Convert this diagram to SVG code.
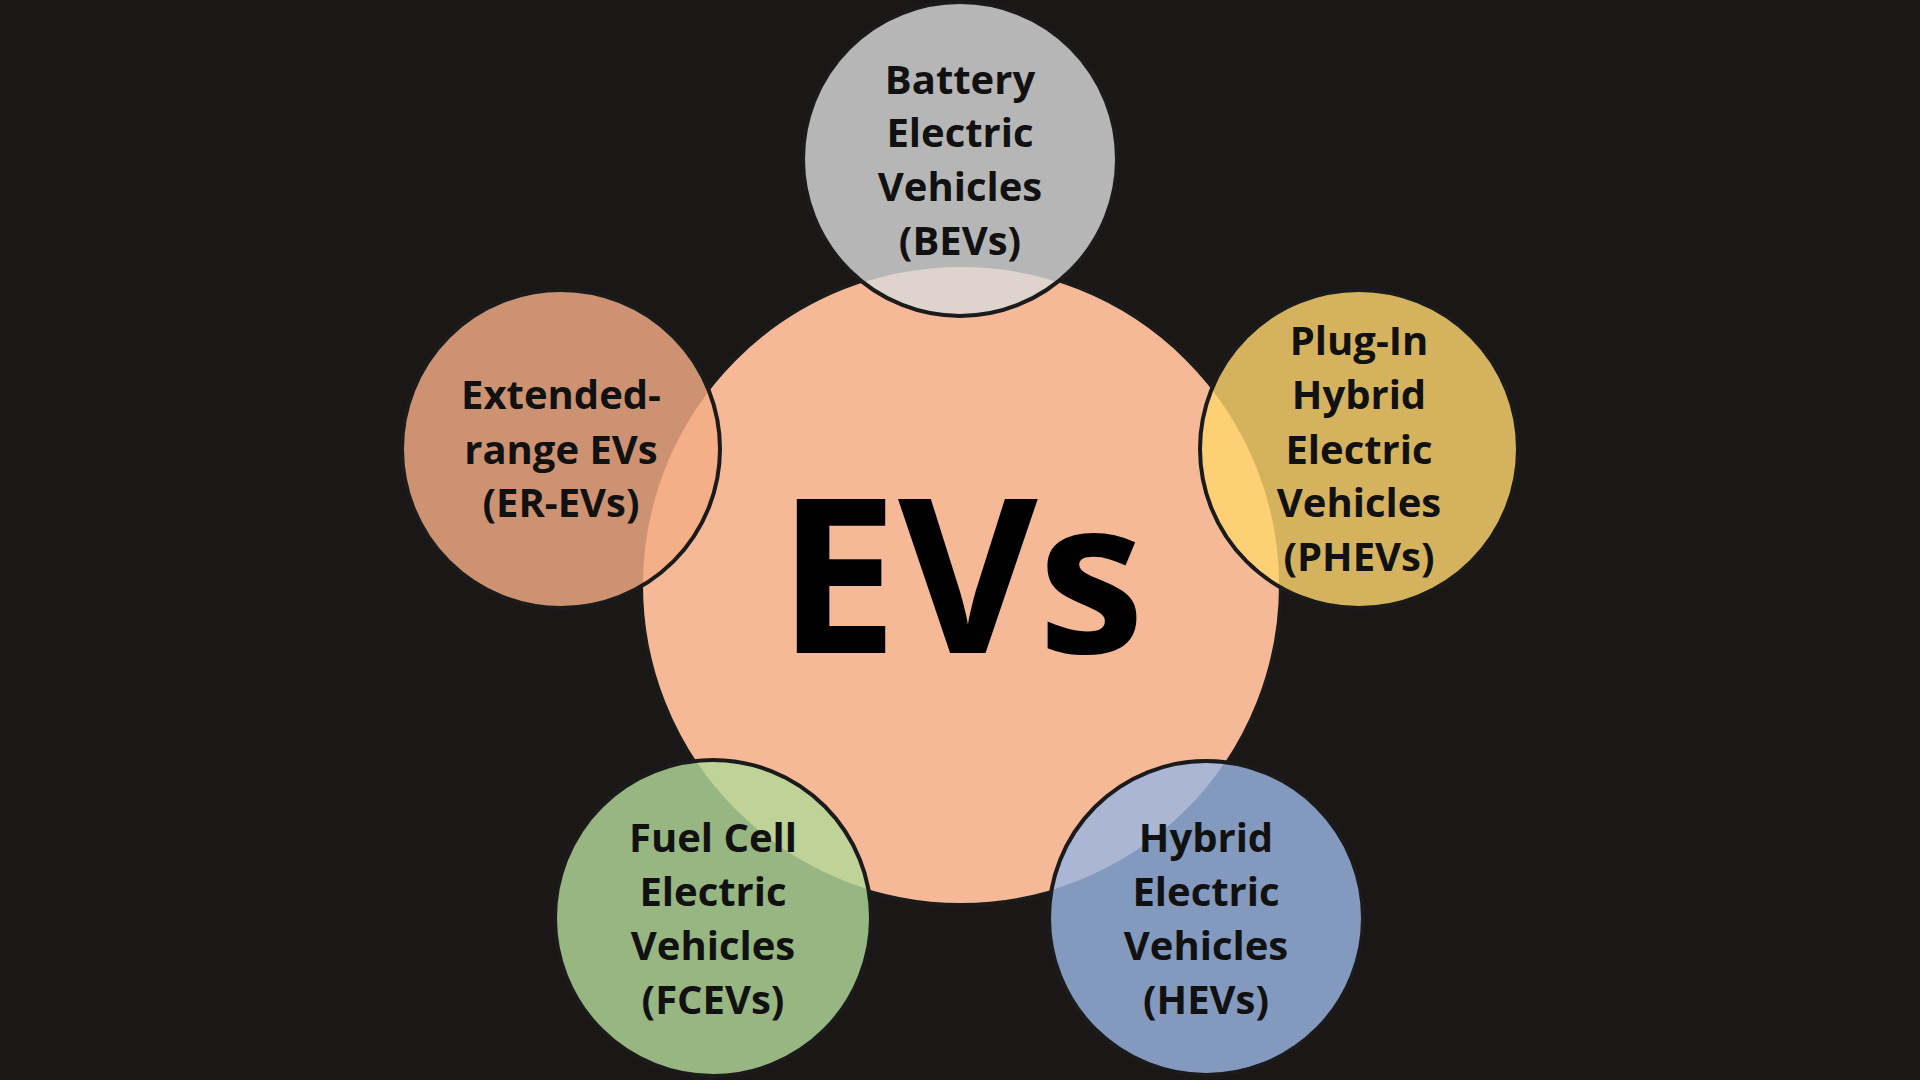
<svg xmlns="http://www.w3.org/2000/svg" width="1920" height="1080" viewBox="0 0 1920 1080">
<style>
.c{stroke:#1b1b1b;stroke-width:4}
.o{fill-opacity:0.82}
.t{font-family:"Open Sans","Liberation Sans",sans-serif;font-weight:bold;font-size:40px;fill:#111;text-anchor:middle}
</style>
<rect width="1920" height="1080" fill="#1a1716"/>
<g id="center"><circle class="c" cx="961" cy="585" r="320" fill="#f5b998"/>
<text x="961" y="653" font-family="Open Sans,Liberation Sans,sans-serif" font-weight="bold" font-size="215" fill="#000" text-anchor="middle">EVs</text></g>
<g id="bev"><circle class="c o" cx="960" cy="159" r="157" fill="#d9d9d9"/>
<text class="t" x="960"><tspan x="960" y="94">Battery</tspan><tspan x="960" y="147">Electric</tspan><tspan x="960" y="201">Vehicles</tspan><tspan x="960" y="255">(BEVs)</tspan></text></g>
<g id="phev"><circle class="c o" cx="1359" cy="449" r="159" fill="#ffd66e"/>
<text class="t"><tspan x="1359" y="355">Plug-In</tspan><tspan x="1359" y="409">Hybrid</tspan><tspan x="1359" y="464">Electric</tspan><tspan x="1359" y="517">Vehicles</tspan><tspan x="1359" y="571">(PHEVs)</tspan></text></g>
<g id="hev"><circle class="c o" cx="1206" cy="918" r="157" fill="#9bb6e2"/>
<text class="t"><tspan x="1206" y="852">Hybrid</tspan><tspan x="1206" y="906">Electric</tspan><tspan x="1206" y="960">Vehicles</tspan><tspan x="1206" y="1014">(HEVs)</tspan></text></g>
<g id="fcev"><circle class="c o" cx="713" cy="918" r="158" fill="#b3d99a"/>
<text class="t"><tspan x="713" y="852">Fuel Cell</tspan><tspan x="713" y="906">Electric</tspan><tspan x="713" y="960">Vehicles</tspan><tspan x="713" y="1014">(FCEVs)</tspan></text></g>
<g id="erev"><circle class="c o" cx="561" cy="449" r="159" fill="#f4ad86"/>
<text class="t"><tspan x="561" y="409">Extended-</tspan><tspan x="561" y="464">range EVs</tspan><tspan x="561" y="517">(ER-EVs)</tspan></text></g>
<g id="connectors"/>
</svg>
